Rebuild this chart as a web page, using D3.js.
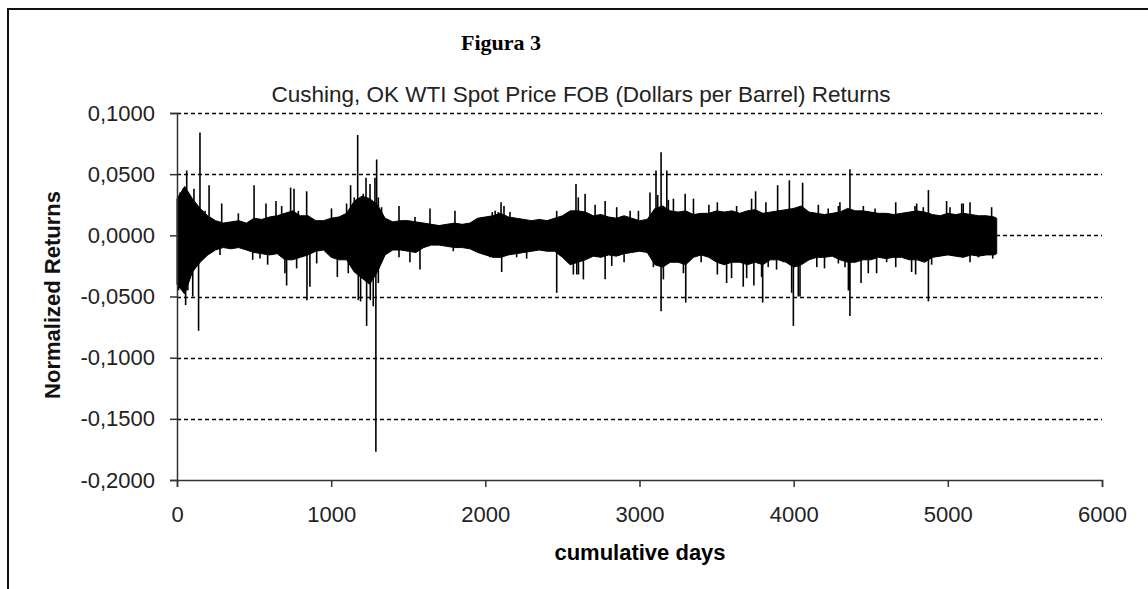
<!DOCTYPE html>
<html>
<head>
<meta charset="utf-8">
<script src="https://cdn.jsdelivr.net/npm/d3@7"></script>
<style>
  html, body { margin: 0; padding: 0; background: #fff; }
  svg { display: block; }
</style>
</head>
<body>
<svg id="chart" width="1148" height="589"></svg>
<script>
// ---------------- data ----------------
const titleText = "Figura 3";
const subtitleText = "Cushing, OK WTI Spot Price FOB (Dollars per Barrel) Returns";
const xAxisTitle = "cumulative days";
const yAxisTitle = "Normalized Returns";

const xTicks = [0, 1000, 2000, 3000, 4000, 5000, 6000];
const xTickLabels = ["0", "1000", "2000", "3000", "4000", "5000", "6000"];
const yTicks = [0.1, 0.05, 0, -0.05, -0.1, -0.15, -0.2];
const yTickLabels = ["0,1000", "0,0500", "0,0000", "-0,0500", "-0,1000", "-0,1500", "-0,2000"];

// dense core of the returns: upper / lower envelope every 50 days
const bandDays = [0,50,100,150,200,250,300,350,400,450,500,550,600,650,700,750,800,850,900,950,
  1000,1050,1100,1150,1200,1250,1300,1350,1400,1450,1500,1550,1600,1650,1700,1750,1800,1850,1900,1950,
  2000,2050,2100,2150,2200,2250,2300,2350,2400,2450,2500,2550,2600,2650,2700,2750,2800,2850,2900,2950,
  3000,3050,3100,3150,3200,3250,3300,3350,3400,3450,3500,3550,3600,3650,3700,3750,3800,3850,3900,3950,
  4000,4050,4100,4150,4200,4250,4300,4350,4400,4450,4500,4550,4600,4650,4700,4750,4800,4850,4900,4950,
  5000,5050,5100,5150,5200,5250,5300,5317];
const bandHigh = [0.030,0.040,0.030,0.022,0.016,0.012,0.010,0.011,0.012,0.010,0.014,0.013,0.015,0.016,0.018,0.020,0.016,0.016,0.012,0.012,
  0.014,0.015,0.018,0.028,0.032,0.030,0.025,0.014,0.011,0.012,0.012,0.011,0.010,0.009,0.008,0.009,0.010,0.009,0.010,0.014,
  0.015,0.016,0.018,0.015,0.014,0.013,0.012,0.013,0.012,0.014,0.016,0.020,0.020,0.019,0.016,0.017,0.015,0.014,0.016,0.014,
  0.012,0.013,0.022,0.024,0.020,0.019,0.020,0.017,0.018,0.018,0.020,0.019,0.020,0.018,0.020,0.021,0.018,0.019,0.020,0.021,
  0.022,0.024,0.019,0.018,0.017,0.018,0.019,0.022,0.020,0.020,0.019,0.018,0.018,0.017,0.018,0.019,0.020,0.019,0.017,0.016,
  0.018,0.017,0.018,0.017,0.016,0.016,0.015,0.014];
const bandLow = [-0.040,-0.048,-0.030,-0.022,-0.016,-0.012,-0.010,-0.011,-0.010,-0.012,-0.014,-0.015,-0.016,-0.015,-0.020,-0.020,-0.018,-0.016,-0.013,-0.012,
  -0.018,-0.020,-0.020,-0.030,-0.035,-0.040,-0.030,-0.016,-0.012,-0.012,-0.013,-0.014,-0.010,-0.008,-0.008,-0.009,-0.010,-0.010,-0.011,-0.014,
  -0.016,-0.018,-0.018,-0.016,-0.015,-0.014,-0.013,-0.012,-0.013,-0.013,-0.018,-0.024,-0.022,-0.020,-0.017,-0.018,-0.016,-0.017,-0.015,-0.014,
  -0.013,-0.014,-0.024,-0.026,-0.022,-0.022,-0.024,-0.018,-0.016,-0.018,-0.022,-0.024,-0.022,-0.022,-0.024,-0.022,-0.024,-0.020,-0.020,-0.022,
  -0.026,-0.024,-0.020,-0.018,-0.018,-0.017,-0.020,-0.022,-0.022,-0.020,-0.020,-0.018,-0.019,-0.018,-0.018,-0.020,-0.020,-0.022,-0.018,-0.017,
  -0.016,-0.017,-0.018,-0.016,-0.017,-0.016,-0.016,-0.015];

// individual large returns (day, value) that stick out of the core
const spikeDays = [10,20,30,40,56,63,70,80,102,110,140,149,182,208,279,290,398,491,500,538,577,588,642,679,700,711,737,759,776,787,841,843,
  862,906,1002,1040,1100,1111,1126,1150,1172,1176,1191,1208,1226,1230,1252,1254,1273,1284,1290,1295,1306,1306,1327,1327,1440,1440,1511,1544,1576,1641,
  1792,1803,2030,2045,2064,2084,2102,2106,2121,2160,2203,2268,2463,2463,2571,2588,2593,2603,
  2604,2636,2647,2712,2777,2777,2820,2852,2900,2939,2993,3068,3090,3107,3118,3140,3140,3155,3177,3187,3220,3285,3296,3300,3350,3400,3450,
  3505,3505,3533,3565,3597,3630,3673,3695,3727,3742,3753,3792,3799,3820,3835,3889,3896,3932,3972,3987,3998,4030,4041,4058,4150,4160,4200,4224,4290,4290,4300,4333,4355,4361,
  4365,4365,4437,4452,4484,4528,4538,4603,4662,4662,4765,4787,4791,4798,4841,4874,4874,4895,4992,5014,5090,5100,5144,5144,5198,5252,5284,5291];
const spikeValues = [-0.045,0.035,-0.040,0.038,-0.057,0.053,-0.045,0.030,-0.050,0.038,-0.078,0.084,0.020,0.041,-0.016,0.026,0.018,-0.020,0.041,-0.019,0.026,-0.024,0.028,0.024,-0.031,-0.041,0.039,0.038,-0.027,0.020,0.036,-0.053,
  -0.042,-0.023,0.022,-0.034,0.026,-0.031,0.041,0.031,0.082,-0.053,-0.054,0.034,0.047,-0.074,0.042,-0.053,-0.058,0.047,-0.177,0.062,0.031,-0.039,0.023,-0.020,0.024,-0.018,-0.022,0.015,-0.028,0.022,
  -0.013,0.020,-0.018,0.019,0.020,0.019,0.027,-0.030,0.024,0.019,-0.018,-0.019,0.020,-0.047,-0.032,0.042,-0.032,0.031,
  -0.032,-0.036,0.034,0.025,0.028,-0.036,-0.025,0.023,-0.022,0.020,0.020,0.035,-0.026,0.053,0.033,0.068,-0.062,-0.036,0.053,0.029,0.030,-0.031,0.034,-0.055,0.030,-0.022,0.025,
  0.027,-0.032,-0.023,-0.039,-0.035,0.024,-0.042,-0.035,0.030,-0.041,0.036,-0.034,-0.055,0.027,-0.026,-0.028,0.041,-0.022,0.045,-0.047,-0.074,-0.050,-0.050,0.043,-0.026,0.025,-0.027,0.022,-0.023,0.024,0.027,-0.026,-0.045,-0.045,
  0.054,-0.066,-0.039,0.024,-0.031,0.022,-0.031,-0.022,0.027,-0.026,-0.030,0.024,-0.032,0.026,0.023,0.037,-0.054,-0.024,0.028,0.023,0.026,0.026,0.027,-0.022,-0.018,0.016,0.023,-0.019];

// ---------------- drawing ----------------
const svg = d3.select("#chart");
const FONT = "Arial, 'Liberation Sans', sans-serif";

svg.append("rect").attr("width", 1148).attr("height", 589).attr("fill", "#fff");
// outer chart frame (right / bottom edges fall outside the picture)
svg.append("rect").attr("x", 8).attr("y", 9).attr("width", 1160).attr("height", 600)
  .attr("fill", "none").attr("stroke", "#111").attr("stroke-width", 2);

const x = d3.scaleLinear().domain([0, 6000]).range([177, 1102]);
const y = d3.scaleLinear().domain([-0.2, 0.1]).range([480, 113]);

// dashed gridlines
svg.append("g").selectAll("line").data(yTicks.filter(v => v > -0.2)).join("line")
  .attr("x1", x(0)).attr("x2", x(6000))
  .attr("y1", d => Math.round(y(d)) + 0.5).attr("y2", d => Math.round(y(d)) + 0.5)
  .attr("stroke", "#000").attr("stroke-width", 1.5).attr("stroke-dasharray", "4,3");

// data: dense core band
const band = bandDays.map((d, i) => ({ d, hi: bandHigh[i], lo: bandLow[i] }));
svg.append("path").datum(band)
  .attr("d", d3.area().x(p => x(p.d)).y0(p => y(p.lo)).y1(p => y(p.hi)))
  .attr("fill", "#000").attr("stroke", "#000").attr("stroke-width", 1);

// data: spikes
const spikes = spikeDays.map((d, i) => ({ d, v: spikeValues[i] }));
svg.append("g").selectAll("line").data(spikes).join("line")
  .attr("x1", p => x(p.d)).attr("x2", p => x(p.d))
  .attr("y1", y(0)).attr("y2", p => y(p.v))
  .attr("stroke", "#000").attr("stroke-width", 1.6);

// y axis
const yAxis = d3.axisLeft(y).tickValues(yTicks).tickSize(7).tickPadding(15)
  .tickFormat((d, i) => yTickLabels[i]);
const gy = svg.append("g").attr("transform", `translate(${x(0)},0)`).call(yAxis);
gy.select(".domain").attr("stroke", "#333").attr("stroke-width", 1.5);
gy.selectAll(".tick line").attr("stroke", "#333").attr("stroke-width", 1.5);
gy.selectAll(".tick text").attr("font-family", FONT).attr("font-size", 22).attr("fill", "#222");

// x axis
const xAxis = d3.axisBottom(x).tickValues(xTicks).tickSize(7).tickPadding(19)
  .tickFormat((d, i) => xTickLabels[i]);
const gx = svg.append("g").attr("transform", `translate(0,${y(-0.2)})`).call(xAxis);
gx.select(".domain").attr("stroke", "#333").attr("stroke-width", 1.5);
gx.selectAll(".tick line").attr("stroke", "#333").attr("stroke-width", 1.5);
gx.selectAll(".tick text").attr("font-family", FONT).attr("font-size", 22).attr("fill", "#222");

// titles
svg.append("text").attr("x", 501).attr("y", 50).attr("text-anchor", "middle")
  .attr("font-family", "'Times New Roman', 'Liberation Serif', serif").attr("font-weight", "bold")
  .attr("font-size", 22).attr("fill", "#000").text(titleText);
svg.append("text").attr("x", 581).attr("y", 102).attr("text-anchor", "middle")
  .attr("font-family", FONT).attr("font-size", 22.5).attr("fill", "#222").text(subtitleText);
svg.append("text").attr("x", 640).attr("y", 560).attr("text-anchor", "middle")
  .attr("font-family", FONT).attr("font-weight", "bold").attr("font-size", 22).attr("fill", "#000").text(xAxisTitle);
svg.append("text").attr("transform", "translate(60,295) rotate(-90)").attr("text-anchor", "middle")
  .attr("font-family", FONT).attr("font-weight", "bold").attr("font-size", 22).attr("fill", "#111").text(yAxisTitle);
</script>
</body>
</html>
